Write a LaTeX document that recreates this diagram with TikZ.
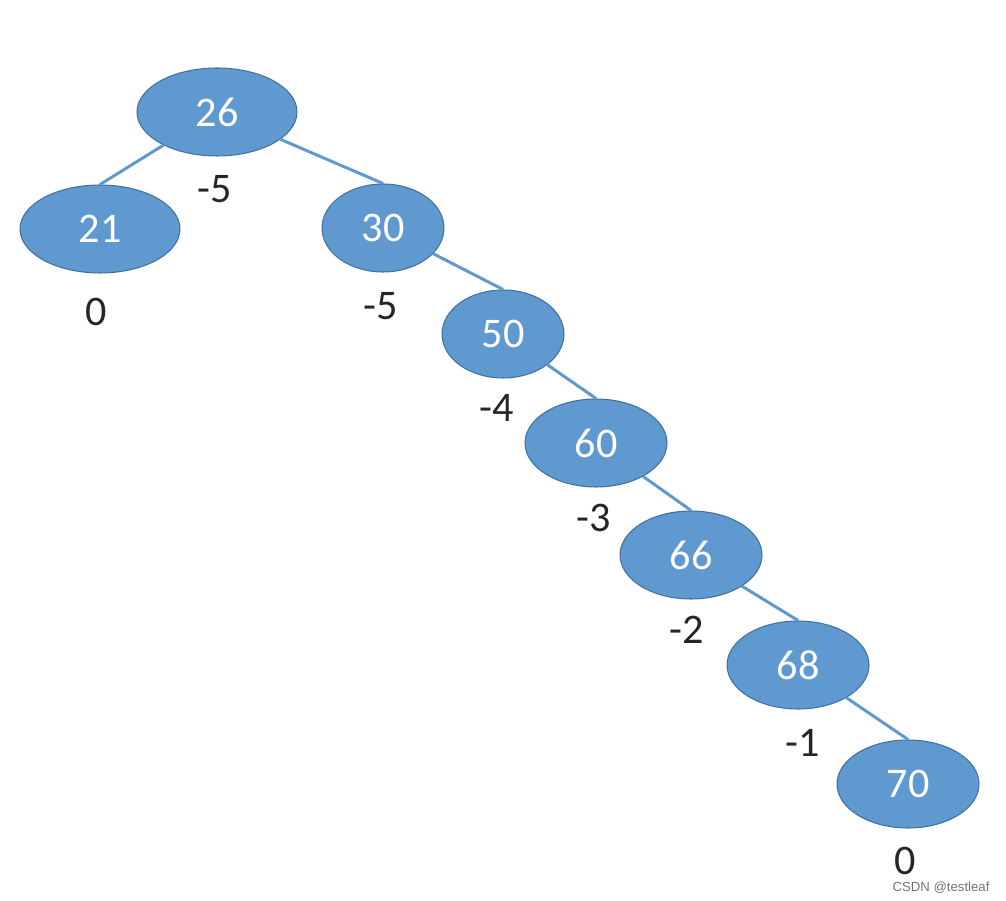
\documentclass[tikz,border=0pt]{standalone}
\usepackage{fontspec}
\setmainfont{Carlito}
\newfontfamily\markfont{Liberation Sans}
\usetikzlibrary{shapes.geometric}
\definecolor{nodeblue}{RGB}{95,153,208}
\definecolor{rimblue}{RGB}{65,113,156}

\begin{document}
\begin{tikzpicture}[x=0.02cm, y=-0.02cm,
                    every node/.style={inner sep=0pt},
                    bnode/.style={ellipse, fill=nodeblue, draw=rimblue, line width=0.6pt,
                                  text=white, font=\fontsize{24}{28}\selectfont,
                                  minimum height=1.76cm},
                    lbl/.style={font=\fontsize{24}{28}\selectfont, text=black!85},
                    link/.style={draw=nodeblue, line width=1.7pt}]
\useasboundingbox (0,0) rectangle (1006,901);
\node[bnode, minimum width=3.2cm]  (n26) at (217,112) {26};
\node[bnode, minimum width=3.2cm]  (n21) at (100,229) {21};
\node[bnode, minimum width=2.44cm] (n30) at (383,228) {30};
\node[bnode, minimum width=2.44cm] (n50) at (503,334) {50};
\node[bnode, minimum width=2.84cm] (n60) at (596,443) {60};
\node[bnode, minimum width=2.84cm] (n66) at (691,555) {66};
\node[bnode, minimum width=2.84cm] (n68) at (798,665) {68};
\node[bnode, minimum width=2.84cm] (n70) at (908,784) {70};

\draw[link] (n26) -- (n21.north);
\draw[link] (n26) -- (n30.north);
\draw[link] (n30) -- (n50.north);
\draw[link] (n50) -- (n60.north);
\draw[link] (n60) -- (n66.north);
\draw[link] (n66) -- (n68.north);
\draw[link] (n68) -- (n70.north);

\node[lbl] (b26) at (215,189) {-5};
\node[lbl] (b21) at (96,312)  {0};
\node[lbl] (b30) at (381,306) {-5};
\node[lbl] (b50) at (497,408) {-4};
\node[lbl] (b60) at (594,518) {-3};
\node[lbl] (b66) at (687,630) {-2};
\node[lbl] (b68) at (803,743) {-1};
\node[lbl] (b70) at (905,861) {0};

\node[text=black!55, font=\markfont\fontsize{7.5}{9}\selectfont] (mark) at (941,888) {CSDN @testleaf};
\end{tikzpicture}
\end{document}
